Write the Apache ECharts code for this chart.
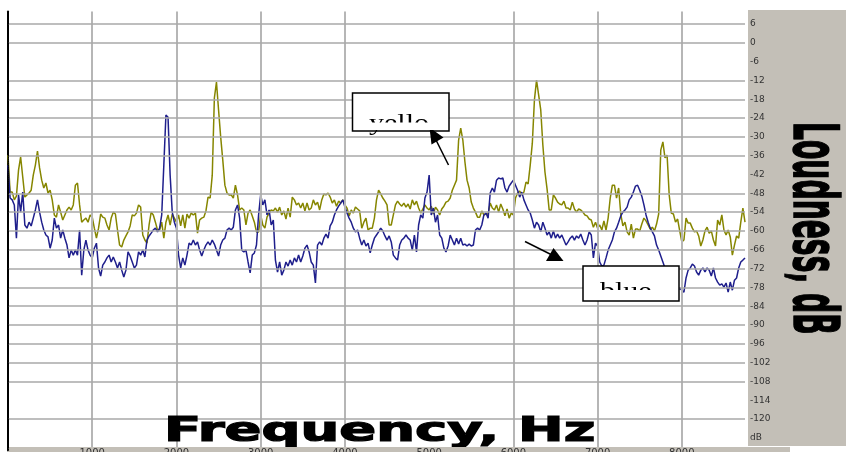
<!DOCTYPE html>
<html><head><meta charset="utf-8">
<script src="https://cdn.jsdelivr.net/npm/echarts@6/dist/echarts.min.js"></script>
<style>html,body{margin:0;padding:0;background:#fff}#c{width:846px;height:452px}</style>
</head><body><div id="c"></div>
<script>
// Frequency bins (Hz)
const freqHz = [
0,25,50,75,100,125,150,175,200,225,250,275,300,325,350,375,400,425,450,475,
500,525,550,575,600,625,650,675,700,725,750,775,800,825,850,875,900,925,950,975,
1000,1025,1050,1075,1100,1125,1150,1175,1200,1225,1250,1275,1300,1325,1350,1375,1400,1425,1450,1475,
1500,1525,1550,1575,1600,1625,1650,1675,1700,1725,1750,1775,1800,1825,1850,1875,1900,1925,1950,1975,
2000,2025,2050,2075,2100,2125,2150,2175,2200,2225,2250,2275,2300,2325,2350,2375,2400,2425,2450,2475,
2500,2525,2550,2575,2600,2625,2650,2675,2700,2725,2750,2775,2800,2825,2850,2875,2900,2925,2950,2975,
3000,3025,3050,3075,3100,3125,3150,3175,3200,3225,3250,3275,3300,3325,3350,3375,3400,3425,3450,3475,
3500,3525,3550,3575,3600,3625,3650,3675,3700,3725,3750,3775,3800,3825,3850,3875,3900,3925,3950,3975,
4000,4025,4050,4075,4100,4125,4150,4175,4200,4225,4250,4275,4300,4325,4350,4375,4400,4425,4450,4475,
4500,4525,4550,4575,4600,4625,4650,4675,4700,4725,4750,4775,4800,4825,4850,4875,4900,4925,4950,4975,
5000,5025,5050,5075,5100,5125,5150,5175,5200,5225,5250,5275,5300,5325,5350,5375,5400,5425,5450,5475,
5500,5525,5550,5575,5600,5625,5650,5675,5700,5725,5750,5775,5800,5825,5850,5875,5900,5925,5950,5975,
6000,6025,6050,6075,6100,6125,6150,6175,6200,6225,6250,6275,6300,6325,6350,6375,6400,6425,6450,6475,
6500,6525,6550,6575,6600,6625,6650,6675,6700,6725,6750,6775,6800,6825,6850,6875,6900,6925,6950,6975,
7000,7025,7050,7075,7100,7125,7150,7175,7200,7225,7250,7275,7300,7325,7350,7375,7400,7425,7450,7475,
7500,7525,7550,7575,7600,7625,7650,7675,7700,7725,7750,7775,7800,7825,7850,7875,7900,7925,7950,7975,
8000,8025,8050,8075,8100,8125,8150,8175,8200,8225,8250,8275,8300,8325,8350,8375,8400,8425,8450,8475,
8500,8525,8550,8575,8600,8625,8650,8675,8700,8725,8750];

// Loudness, dB - "yello" trace
const yelloDb = [
-35.8,-47.6,-47.6,-50.1,-48.9,-40.6,-36.4,-42.8,-49.2,-48.5,
-47.9,-47.0,-42.2,-39.0,-34.5,-39.9,-43.8,-46.3,-44.7,-47.9,
-47.0,-50.1,-54.9,-55.6,-51.7,-54.0,-56.5,-54.9,-53.3,-52.4,
-53.3,-51.7,-45.4,-44.7,-51.7,-57.2,-56.5,-55.9,-57.2,-54.9,
-55.6,-59.1,-62.3,-59.1,-54.6,-55.6,-55.9,-58.1,-59.7,-55.9,
-54.0,-54.6,-59.7,-64.5,-65.1,-62.9,-61.6,-60.3,-58.4,-54.9,
-55.2,-54.3,-51.7,-52.4,-61.3,-62.9,-63.9,-58.1,-54.0,-54.9,
-57.2,-59.7,-59.7,-57.2,-62.3,-57.2,-54.9,-58.1,-54.6,-55.9,
-57.2,-54.9,-58.4,-54.9,-59.1,-54.6,-55.9,-54.3,-54.9,-54.3,
-60.7,-56.5,-55.9,-55.6,-53.6,-49.2,-49.5,-42.2,-17.6,-12.5,
-21.4,-30.0,-37.4,-45.4,-47.9,-48.5,-48.5,-49.5,-45.4,-48.5,
-53.3,-52.7,-53.3,-58.1,-54.3,-53.3,-55.2,-57.2,-60.3,-60.3,
-54.9,-58.1,-59.1,-55.6,-54.3,-53.3,-53.6,-52.7,-54.0,-52.4,
-54.9,-53.6,-56.2,-52.7,-55.6,-49.2,-50.1,-51.7,-51.1,-52.7,
-51.1,-53.6,-51.1,-53.3,-52.7,-50.1,-51.7,-50.8,-53.3,-50.1,
-48.2,-48.5,-47.9,-49.2,-51.1,-50.1,-52.1,-50.5,-51.1,-50.1,
-51.7,-52.7,-55.2,-53.3,-54.3,-52.4,-53.0,-53.6,-59.1,-57.2,
-55.9,-59.7,-59.1,-59.1,-55.9,-50.1,-47.0,-48.2,-49.5,-50.5,
-51.7,-58.1,-58.1,-54.9,-51.7,-50.5,-51.4,-52.1,-51.1,-52.4,
-51.4,-53.0,-50.1,-51.7,-50.5,-52.7,-54.3,-53.0,-51.7,-52.7,
-53.3,-52.1,-54.6,-52.4,-53.3,-54.9,-53.0,-52.1,-50.8,-50.5,
-49.5,-47.0,-45.4,-43.8,-31.0,-27.2,-31.0,-38.0,-43.8,-46.3,
-50.8,-52.7,-54.0,-55.6,-55.6,-53.6,-54.9,-54.6,-54.6,-51.1,
-52.7,-53.3,-51.7,-54.0,-51.4,-53.0,-55.2,-53.0,-55.9,-54.3,
-54.9,-49.5,-47.9,-47.3,-48.5,-47.6,-44.4,-45.0,-39.0,-32.0,
-18.2,-11.9,-16.6,-21.4,-32.6,-41.2,-46.6,-53.3,-53.3,-48.5,
-49.5,-50.8,-51.4,-51.7,-50.5,-52.7,-52.7,-53.3,-50.8,-53.0,
-54.0,-53.0,-53.3,-54.0,-54.9,-55.2,-56.2,-56.5,-58.8,-57.2,
-59.1,-58.1,-59.7,-56.8,-59.7,-55.9,-49.5,-45.4,-45.4,-49.5,
-46.3,-54.6,-58.4,-57.2,-60.3,-61.3,-57.8,-62.3,-59.4,-59.4,
-60.0,-57.8,-55.9,-56.8,-58.1,-59.4,-58.8,-60.0,-57.8,-54.6,
-34.2,-31.6,-36.7,-35.8,-48.5,-54.3,-54.6,-57.2,-56.2,-60.0,
-63.5,-62.9,-55.9,-57.5,-57.5,-59.1,-60.3,-60.0,-61.6,-64.8,
-62.9,-60.0,-58.8,-60.7,-60.0,-62.9,-64.8,-56.5,-58.1,-54.9,
-59.7,-61.3,-59.7,-61.9,-67.7,-64.5,-61.6,-62.3,-57.2,-52.7,-57.2];

// Loudness, dB - "blue" trace
const blueDb = [
-39.0,-49.5,-50.1,-51.7,-62.3,-48.5,-54.0,-47.6,-58.1,-59.1,
-57.2,-58.4,-55.9,-53.3,-50.1,-54.0,-57.2,-59.7,-61.3,-61.9,
-65.5,-62.9,-55.9,-59.1,-58.1,-62.3,-59.7,-62.3,-64.5,-68.6,
-66.1,-67.7,-66.1,-67.7,-59.7,-74.1,-66.1,-62.9,-66.1,-67.7,
-68.6,-65.5,-63.9,-71.8,-74.4,-70.9,-69.9,-68.6,-67.7,-69.9,
-68.3,-69.9,-71.8,-69.9,-72.5,-74.7,-72.5,-66.7,-68.0,-69.9,
-71.8,-70.9,-66.7,-67.7,-66.1,-68.3,-62.9,-61.6,-60.7,-59.7,
-59.1,-60.3,-59.1,-54.9,-39.0,-23.0,-23.7,-42.2,-54.0,-57.2,
-59.1,-67.7,-71.8,-68.6,-70.9,-67.7,-63.9,-64.5,-62.9,-64.5,
-63.5,-66.1,-68.0,-66.1,-64.5,-63.5,-64.5,-62.9,-64.2,-66.1,
-68.0,-64.5,-62.9,-62.3,-59.7,-59.1,-59.7,-58.8,-53.3,-51.7,
-55.9,-66.1,-66.7,-66.1,-69.9,-73.4,-67.7,-67.0,-64.5,-54.9,
-48.5,-51.7,-50.1,-54.9,-53.3,-58.1,-56.5,-69.3,-73.1,-69.9,
-74.1,-72.5,-69.9,-71.2,-69.3,-70.9,-68.6,-69.9,-67.7,-69.9,
-68.0,-65.5,-64.5,-66.7,-69.9,-70.9,-76.6,-64.5,-63.5,-64.5,
-62.3,-61.0,-62.3,-58.4,-57.2,-54.9,-53.3,-52.1,-51.1,-50.1,
-52.4,-54.3,-55.9,-57.2,-59.1,-60.3,-59.7,-62.3,-64.5,-62.9,
-64.8,-63.9,-67.0,-64.5,-62.3,-61.3,-60.3,-59.1,-60.0,-61.6,
-62.9,-61.6,-63.5,-67.7,-68.6,-69.3,-64.5,-62.9,-62.3,-61.3,
-62.3,-62.9,-66.1,-61.3,-66.7,-58.1,-54.9,-55.9,-49.5,-47.6,
-42.2,-54.9,-52.7,-57.2,-54.9,-61.3,-62.3,-65.5,-66.7,-64.8,
-61.3,-62.9,-64.5,-62.3,-64.2,-62.3,-64.5,-64.2,-64.8,-64.2,
-64.8,-64.5,-59.7,-59.1,-59.7,-58.1,-54.9,-54.3,-55.9,-47.9,
-46.3,-47.6,-43.8,-43.1,-43.4,-43.1,-46.3,-47.6,-45.7,-44.7,
-43.8,-45.4,-47.0,-49.2,-47.6,-50.1,-51.7,-53.3,-54.3,-56.5,
-59.1,-57.2,-58.1,-60.3,-57.2,-59.1,-61.3,-60.3,-62.3,-60.0,
-62.3,-61.0,-62.3,-61.3,-62.9,-64.5,-63.5,-62.3,-61.6,-62.9,
-61.6,-62.3,-61.0,-62.9,-64.5,-62.9,-60.3,-61.3,-68.6,-63.9,
-64.8,-69.9,-71.2,-70.9,-68.6,-66.1,-64.5,-62.9,-60.3,-59.1,
-57.2,-55.2,-54.0,-53.3,-52.4,-50.1,-49.2,-47.6,-45.7,-45.4,
-47.0,-48.9,-51.7,-54.9,-57.2,-59.1,-60.3,-61.6,-64.5,-66.1,
-68.0,-69.9,-71.8,-74.1,-75.7,-77.3,-78.2,-78.9,-78.9,-78.2,
-78.9,-79.5,-75.0,-72.5,-71.8,-70.6,-71.2,-73.1,-74.1,-72.5,
-71.8,-73.1,-71.8,-72.5,-74.4,-71.8,-75.0,-76.3,-77.3,-76.9,
-77.9,-76.6,-79.5,-76.3,-78.9,-75.7,-75.0,-71.8,-69.9,-69.3,-68.6];

// Axis ticks and labels
const freqTicks = [1000,2000,3000,4000,5000,6000,7000,8000];
const freqTickLabels = ['1000','2000','3000','4000','5000','6000','7000','8000'];
const gridFreqs = [1000,2000,3000,4000,6000,7000,8000];
const dbTicks = [6,0,-6,-12,-18,-24,-30,-36,-42,-48,-54,-60,-66,-72,-78,-84,-90,-96,-102,-108,-114,-120,-126];
const dbTickLabels = ['6','0','-6','-12','-18','-24','-30','-36','-42','-48','-54','-60','-66','-72','-78','-84','-90','-96','-102','-108','-114','-120','dB'];
const gridDb = [6,0,-12,-18,-24,-30,-36,-48,-54,-60,-66,-72,-78,-84,-90,-96,-102,-108,-120];
const xTitle = 'Frequency, Hz';
const yTitle = 'Loudness, dB';
const note1 = 'yello';
const note2 = 'blue';

const chart = echarts.init(document.getElementById('c'), null, {renderer:'canvas'});
const panelGrey = '#c3bfb7';
chart.setOption({
  animation: false,
  backgroundColor: '#ffffff',
  grid: {left: 8, right: 101, top: 11.5, bottom: 1.6, outerBoundsMode: 'none', containLabel: false},
  xAxis: {
    type: 'value', min: 0, max: 8750, offset: -2, z: 70,
    axisLine: {show: false}, axisTick: {show: false}, splitLine: {show: false},
    axisLabel: {customValues: freqTicks, margin: 0, fontSize: 10, color: '#333',
      fontFamily: 'DejaVu Sans', hideOverlap: false,
      formatter: v => freqTickLabels[freqTicks.indexOf(v)]}
  },
  yAxis: [{
    type: 'value', position: 'right', min: -130, max: 10, z: 70,
    axisLine: {show: true, lineStyle: {color: '#000', width: 1, type: 'dotted'}},
    axisTick: {show: false}, splitLine: {show: false},
    axisLabel: {customValues: dbTicks, margin: 5, fontSize: 9, color: '#333',
      fontFamily: 'DejaVu Sans', hideOverlap: false,
      formatter: v => dbTickLabels[dbTicks.indexOf(v)]}
  }, {
    type: 'value', position: 'left', min: -130, max: 10,
    axisLine: {show: true, lineStyle: {color: '#000', width: 2}},
    axisTick: {show: false}, axisLabel: {show: false}, splitLine: {show: false}
  }],
  series: [
    {type: 'line', data: [], silent: true, z: 1,
     markLine: {silent: true, symbol: ['none','none'], label: {show: false}, animation: false,
       data: gridFreqs.map(v => ({xAxis: v, lineStyle: {color: '#b6b6b6', width: 2, type: 'solid'}}))
         .concat(gridDb.map(v => ({yAxis: v, lineStyle: {color: '#a8a8a8', width: 1.5, type: 'solid'}})))}},
    {type: 'line', name: note1, data: freqHz.map((f, i) => [f, yelloDb[i]]), showSymbol: false, z: 3,
     lineStyle: {color: '#868600', width: 1.5}, itemStyle: {color: '#868600'}},
    {type: 'line', name: note2, data: freqHz.map((f, i) => [f, blueDb[i]]), showSymbol: false, z: 4,
     lineStyle: {color: '#1f1f8c', width: 1.5}, itemStyle: {color: '#1f1f8c'}}
  ],
  graphic: [
    {type: 'rect', z: 2, shape: {x: 748, y: 10, width: 98, height: 436}, style: {fill: panelGrey}},
    {type: 'text', z: 80, x: 810, y: 122, rotation: -Math.PI / 2, scaleX: 0.455,
     style: {text: yTitle, font: 'bold 62px "DejaVu Sans"', fill: '#000', stroke: '#000', lineWidth: 1.5,
       textAlign: 'left', textVerticalAlign: 'middle'}},
    {type: 'text', z: 50, x: 164, y: 432, scaleX: 1.65,
     style: {text: xTitle, font: 'bold 33px "DejaVu Sans"', fill: '#000', stroke: '#000', lineWidth: 1.2,
       textAlign: 'left', textVerticalAlign: 'middle'}},
    {type: 'rect', z: 60, shape: {x: 8, y: 447, width: 782, height: 5}, style: {fill: panelGrey}},
    // annotation: yello
    {type: 'rect', z: 100, shape: {x: 352.5, y: 93, width: 96.5, height: 38}, style: {fill: '#fff', stroke: '#000', lineWidth: 1.5}},
    {type: 'text', z: 101, x: 369, y: 124, scaleX: 1.25,
     style: {text: note1, font: '24px "Liberation Serif"', fill: '#000', textAlign: 'left', textVerticalAlign: 'middle'}},
    {type: 'rect', z: 102, shape: {x: 354, y: 122.5, width: 93.5, height: 7.5}, style: {fill: '#fff'}},
    {type: 'line', z: 100, shape: {x1: 448.5, y1: 165, x2: 436, y2: 140}, style: {stroke: '#000', lineWidth: 1.5}},
    {type: 'polygon', z: 100, shape: {points: [[429.5, 127.5], [431.5, 144.5], [443.5, 137.5]]}, style: {fill: '#000'}},
    // annotation: blue
    {type: 'rect', z: 100, shape: {x: 583, y: 266, width: 96, height: 35}, style: {fill: '#fff', stroke: '#000', lineWidth: 1.5}},
    {type: 'text', z: 101, x: 600, y: 292, scaleX: 1.25,
     style: {text: note2, font: '24px "Liberation Serif"', fill: '#000', textAlign: 'left', textVerticalAlign: 'middle'}},
    {type: 'rect', z: 102, shape: {x: 584.5, y: 290, width: 93, height: 9.5}, style: {fill: '#fff'}},
    {type: 'line', z: 100, shape: {x1: 525, y1: 241.5, x2: 551, y2: 254.5}, style: {stroke: '#000', lineWidth: 1.5}},
    {type: 'polygon', z: 100, shape: {points: [[563.5, 261], [546, 261], [553.5, 248]]}, style: {fill: '#000'}}
  ]
});
</script></body></html>
